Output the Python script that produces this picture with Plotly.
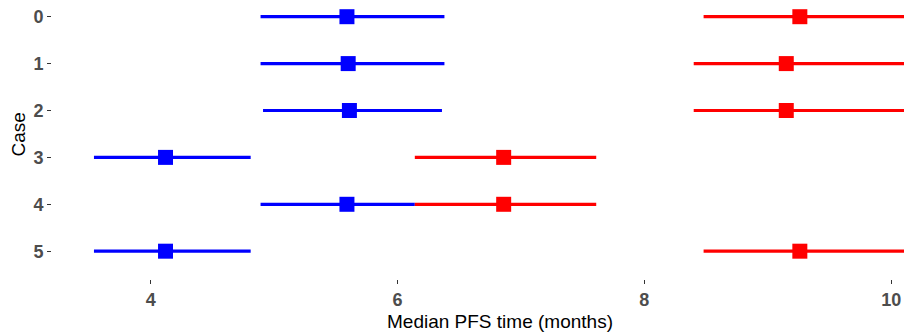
import plotly.graph_objects as go

cases = [0, 1, 2, 3, 4, 5]
case_labels = ["0", "1", "2", "3", "4", "5"]

blue_lower = [4.89, 4.89, 4.91, 3.54, 4.89, 3.54]
blue_median = [5.59, 5.60, 5.61, 4.12, 5.59, 4.12]
blue_upper = [6.38, 6.38, 6.36, 4.81, 6.14, 4.81]

red_lower = [8.48, 8.40, 8.40, 6.14, 6.14, 8.48]
red_median = [9.26, 9.15, 9.15, 6.86, 6.86, 9.26]
red_upper = [10.24, 10.24, 10.24, 7.61, 7.61, 10.24]

x_ticks = [4, 6, 8, 10]

W, H = 904, 332
L, R, T, B = 52, 0, 0, 53

fig = go.Figure()

def add_series(lo, med, hi, color):
    fig.add_trace(go.Scatter(
        x=med, y=cases, mode="markers",
        marker=dict(symbol="square", size=15, color=color, line=dict(width=0)),
        error_x=dict(type="data", symmetric=False,
                     array=[h - m for h, m in zip(hi, med)],
                     arrayminus=[m - l for m, l in zip(med, lo)],
                     color=color, thickness=3.2, width=0),
        showlegend=False, hoverinfo="skip",
    ))

add_series(blue_lower, blue_median, blue_upper, "#0000FF")
add_series(red_lower, red_median, red_upper, "#FF0000")

FONT = "Liberation Sans, Arial, sans-serif"
tick_font = dict(family=FONT, size=18, color="#4D4D4D", weight="bold")

fig.update_layout(
    width=W, height=H,
    margin=dict(l=L, r=R, t=T, b=B, pad=0),
    paper_bgcolor="white", plot_bgcolor="white",
    xaxis=dict(range=[3.2, 10.104], tickvals=x_ticks, ticktext=[str(v) for v in x_ticks],
               showgrid=False, zeroline=False, showline=False,
               ticks="outside", ticklen=4, tickwidth=1, tickcolor="#333333",
               tickfont=tick_font),
    yaxis=dict(range=[5.593, -0.356], tickvals=cases, ticktext=case_labels,
               showgrid=False, zeroline=False, showline=False,
               ticks="outside", ticklen=4, tickwidth=1, tickcolor="#333333",
               tickfont=tick_font),
    annotations=[
        dict(text="Median PFS time (months)", xref="paper", yref="paper",
             x=(500 - L) / (W - L - R), y=-(321 - 279) / (H - T - B),
             xanchor="center", yanchor="middle", showarrow=False,
             font=dict(family=FONT, size=19, color="black")),
        dict(text="Case", xref="paper", yref="paper",
             x=(17.5 - L) / (W - L - R), y=1 - 135 / (H - T - B), textangle=-90,
             xanchor="center", yanchor="middle", showarrow=False,
             font=dict(family=FONT, size=19, color="black")),
    ],
)

fig.write_html("out.html", config={"displayModeBar": False},
               post_script="document.body.style.margin='0';document.body.style.overflow='hidden';")
